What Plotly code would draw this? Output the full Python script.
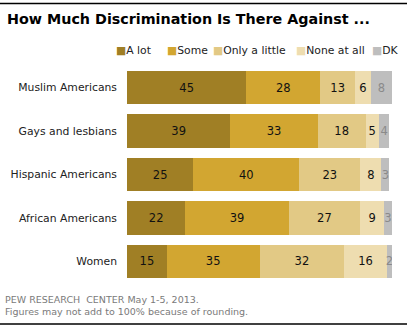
import plotly.graph_objects as go

categories = ["Muslim Americans", "Gays and lesbians", "Hispanic Americans", "African Americans", "Women"]
series_names = ["A lot", "Some", "Only a little", "None at all", "DK"]
a_lot = [45, 39, 25, 22, 15]
some = [28, 33, 40, 39, 35]
only_little = [13, 18, 23, 27, 32]
none_at_all = [6, 5, 8, 9, 16]
dk = [8, 4, 3, 3, 2]
colors = ["#A07F25", "#D2A631", "#E2C985", "#EEDDB0", "#BEBEBE"]
text_colors = ["#111111", "#111111", "#111111", "#111111", "#8A8A8A"]

W, H = 411, 329
ML, MR, MT, MB = 127, 19, 66, 46
PW, PH = W - ML - MR, H - MT - MB

def px(x):
    return (x - ML) / PW

def py(y):
    return (H - MB - y) / PH

FONT = "DejaVu Sans"

fig = go.Figure()
for name, vals, c, tc in zip(series_names, [a_lot, some, only_little, none_at_all, dk], colors, text_colors):
    fig.add_trace(go.Bar(
        y=categories, x=vals, name=name, orientation="h",
        marker=dict(color=c, line=dict(width=0)),
        text=[str(v) for v in vals], textposition="inside",
        insidetextanchor="middle", constraintext="none",
        textfont=dict(family=FONT, size=11.5, color=tc),
        width=0.77, showlegend=False,
    ))

annotations = []
# title
annotations.append(dict(text="<b>How Much Discrimination Is There Against ...</b>",
                        x=px(5), y=py(19), xref="paper", yref="paper",
                        xanchor="left", yanchor="middle", showarrow=False,
                        font=dict(family=FONT, size=14.3, color="#000000")))
# legend
leg_x = [114, 165, 211, 294, 370]
for name, c, lx in zip(series_names, colors, leg_x):
    annotations.append(dict(text=f'<span style="color:{c}">■</span>{name}',
                            x=px(lx), y=py(51), xref="paper", yref="paper",
                            xanchor="left", yanchor="middle", showarrow=False,
                            font=dict(family=FONT, size=10.8, color="#222222")))
# footer
annotations.append(dict(text="PEW RESEARCH  CENTER May 1-5, 2013.<br>Figures may not add to 100% because of rounding.",
                        x=px(3), y=py(292), xref="paper", yref="paper",
                        xanchor="left", yanchor="top", align="left", showarrow=False,
                        font=dict(family=FONT, size=9.5, color="#7A7A7A")))

shapes = [
    dict(type="line", xref="paper", yref="paper", x0=px(0), x1=px(407), y0=py(3.5), y1=py(3.5),
         line=dict(color="#000000", width=1.5)),
    dict(type="line", xref="paper", yref="paper", x0=px(0), x1=px(407), y0=py(324), y1=py(324),
         line=dict(color="#000000", width=1.5)),
]

fig.update_layout(
    barmode="stack", width=W, height=H,
    margin=dict(l=ML, r=MR, t=MT, b=MB, pad=0, autoexpand=False),
    paper_bgcolor="white", plot_bgcolor="white",
    font=dict(family=FONT),
    xaxis=dict(range=[0, 100], visible=False, fixedrange=True, automargin=False),
    yaxis=dict(autorange="reversed", showgrid=False, zeroline=False, showline=False, automargin=False,
               ticks="", ticklabelstandoff=9, tickfont=dict(family=FONT, size=10.8, color="#222222")),
    annotations=annotations, shapes=shapes, bargap=0.23,
)

fig.write_html("out.html")
